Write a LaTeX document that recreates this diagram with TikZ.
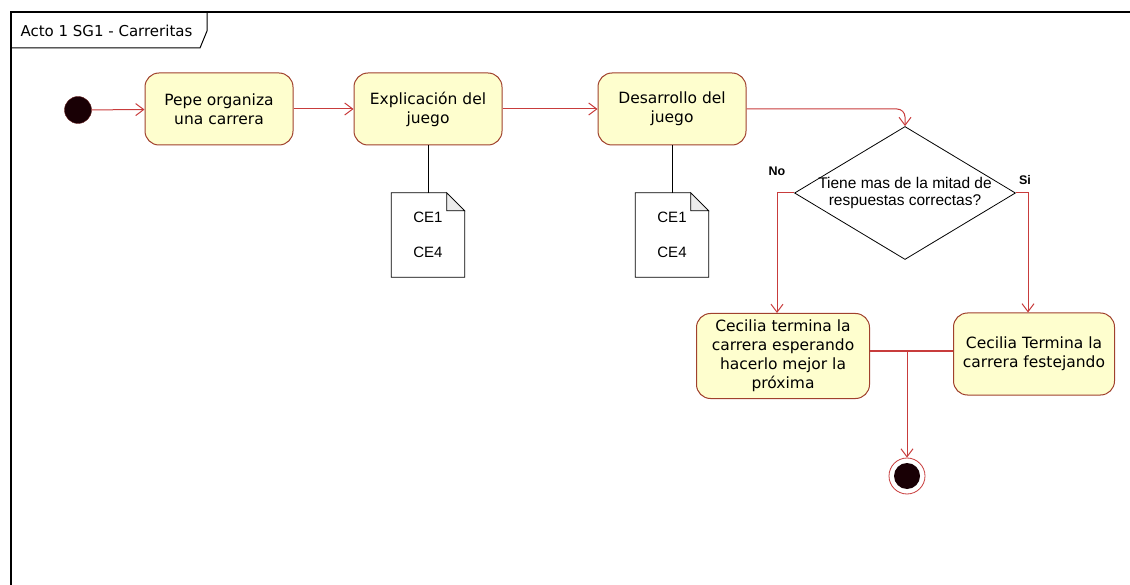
\documentclass[tikz,border=0pt]{standalone}
\usepackage{fontspec}
\setmainfont{DejaVu Sans}
\newfontfamily\arialfont{Liberation Sans}
\usetikzlibrary{shapes.geometric}
\usetikzlibrary{arrows.meta}
\usetikzlibrary{calc}
\usetikzlibrary{positioning}
\definecolor{cajafondo}{RGB}{254,254,206}
\definecolor{cajaborde}{RGB}{160,65,45}
\definecolor{flecha}{RGB}{200,60,60}
\definecolor{relleno}{RGB}{25,0,5}
\tikzset{actividad/.style={draw=cajaborde, fill=cajafondo, rounded corners=14pt,
            line width=1pt, align=center, font=\fontsize{15.5}{19}\selectfont,
            minimum width=148pt, minimum height=72pt, inner sep=4pt},
         transicion/.style={draw=flecha, line width=1pt,
            -{Straight Barb[length=8pt,width=12pt]}},
         nota/.style={minimum width=73pt, minimum height=84pt, align=center,
            font=\arialfont\fontsize{15}{35}\selectfont},
         enlace/.style={draw=black, line width=0.8pt},
         decision/.style={diamond, draw=black, line width=0.8pt,
            minimum width=221pt, minimum height=133pt, inner sep=0pt},
         rama/.style={font=\arialfont\bfseries\fontsize{12.5}{14}\selectfont}}

\begin{document}
\begin{tikzpicture}[x=1pt, y=-1pt]
\useasboundingbox (0,0) rectangle (1130,585);
% marco del diagrama
\draw[line width=1.2pt] (11,585) -- (11,12) -- (1130,12);
\draw[line width=1pt] (11,48) -- (200,48) -- (207,31) -- (207,12);
\node[anchor=west, font=\fontsize{15}{18}\selectfont] (titulo) at (17,31)
    {Acto 1 SG1 - Carreritas};
%
\node[circle, fill=relleno, draw=flecha!50!black, minimum size=27pt,
    inner sep=0pt] (inicio) at (78,110) {};
\node[actividad] (organiza) at (219,109) {Pepe organiza\\una carrera};
\node[actividad] (explicacion) at (428,109) {Explicación del\\juego};
\node[actividad] (desarrollo) at (672,109) {Desarrollo del\\juego};
\node[decision, label={[align=center, font=\arialfont\fontsize{15.5}{17}\selectfont]
    center:Tiene mas de la mitad de\\respuestas correctas?}] (pregunta) at (905,193) {};
\node[actividad, minimum width=173pt, minimum height=85pt] (esperando) at (783,356)
    {Cecilia termina la\\carrera esperando\\hacerlo mejor la\\próxima};
\node[actividad, minimum width=161pt, minimum height=82pt] (festejando) at (1034,354)
    {Cecilia Termina la\\carrera festejando};
\node[circle, draw=flecha, fill=white, line width=0.8pt, minimum size=36pt,
    inner sep=0pt, path picture={\fill[relleno] (path picture bounding box.center)
    circle (13pt);}] (fin) at (907,476) {};
%
\node[nota] (nota1) at (428,235) {CE1\\CE4};
\node[nota] (nota2) at (672,235) {CE1\\CE4};
\foreach \n in {nota1,nota2} {
    \draw[line width=0.8pt] (\n.north west) -- ($(\n.north east)+(-18,0)$)
        -- ($(\n.north east)+(0,18)$) -- (\n.south east) -- (\n.south west) -- cycle;
    \filldraw[fill=gray!15, line width=0.8pt] ($(\n.north east)+(-18,0)$)
        -- ($(\n.north east)+(-18,18)$) -- ($(\n.north east)+(0,18)$) -- cycle;
}
%
\draw[transicion] (inicio) -- (organiza);
\draw[transicion] (organiza) -- (explicacion);
\draw[transicion] (explicacion) -- (desarrollo);
\draw[transicion, rounded corners=8pt] (desarrollo) -| (pregunta);
\draw[transicion] (pregunta.west) -| ([xshift=-6pt]esperando.north);
\draw[transicion] (pregunta.east) -| ([xshift=-6pt]festejando.north);
\node[rama] (no) at (777,171) {No};
\node[rama] (si) at (1025,180) {Si};
\coordinate (union) at (907,351);
\draw[transicion, -] (esperando.east |- union) -- (festejando.west |- union);
\draw[transicion] (union) -- (fin);
%
\draw[enlace] (explicacion) -- (nota1);
\draw[enlace] (desarrollo) -- (nota2);
\end{tikzpicture}
\end{document}
